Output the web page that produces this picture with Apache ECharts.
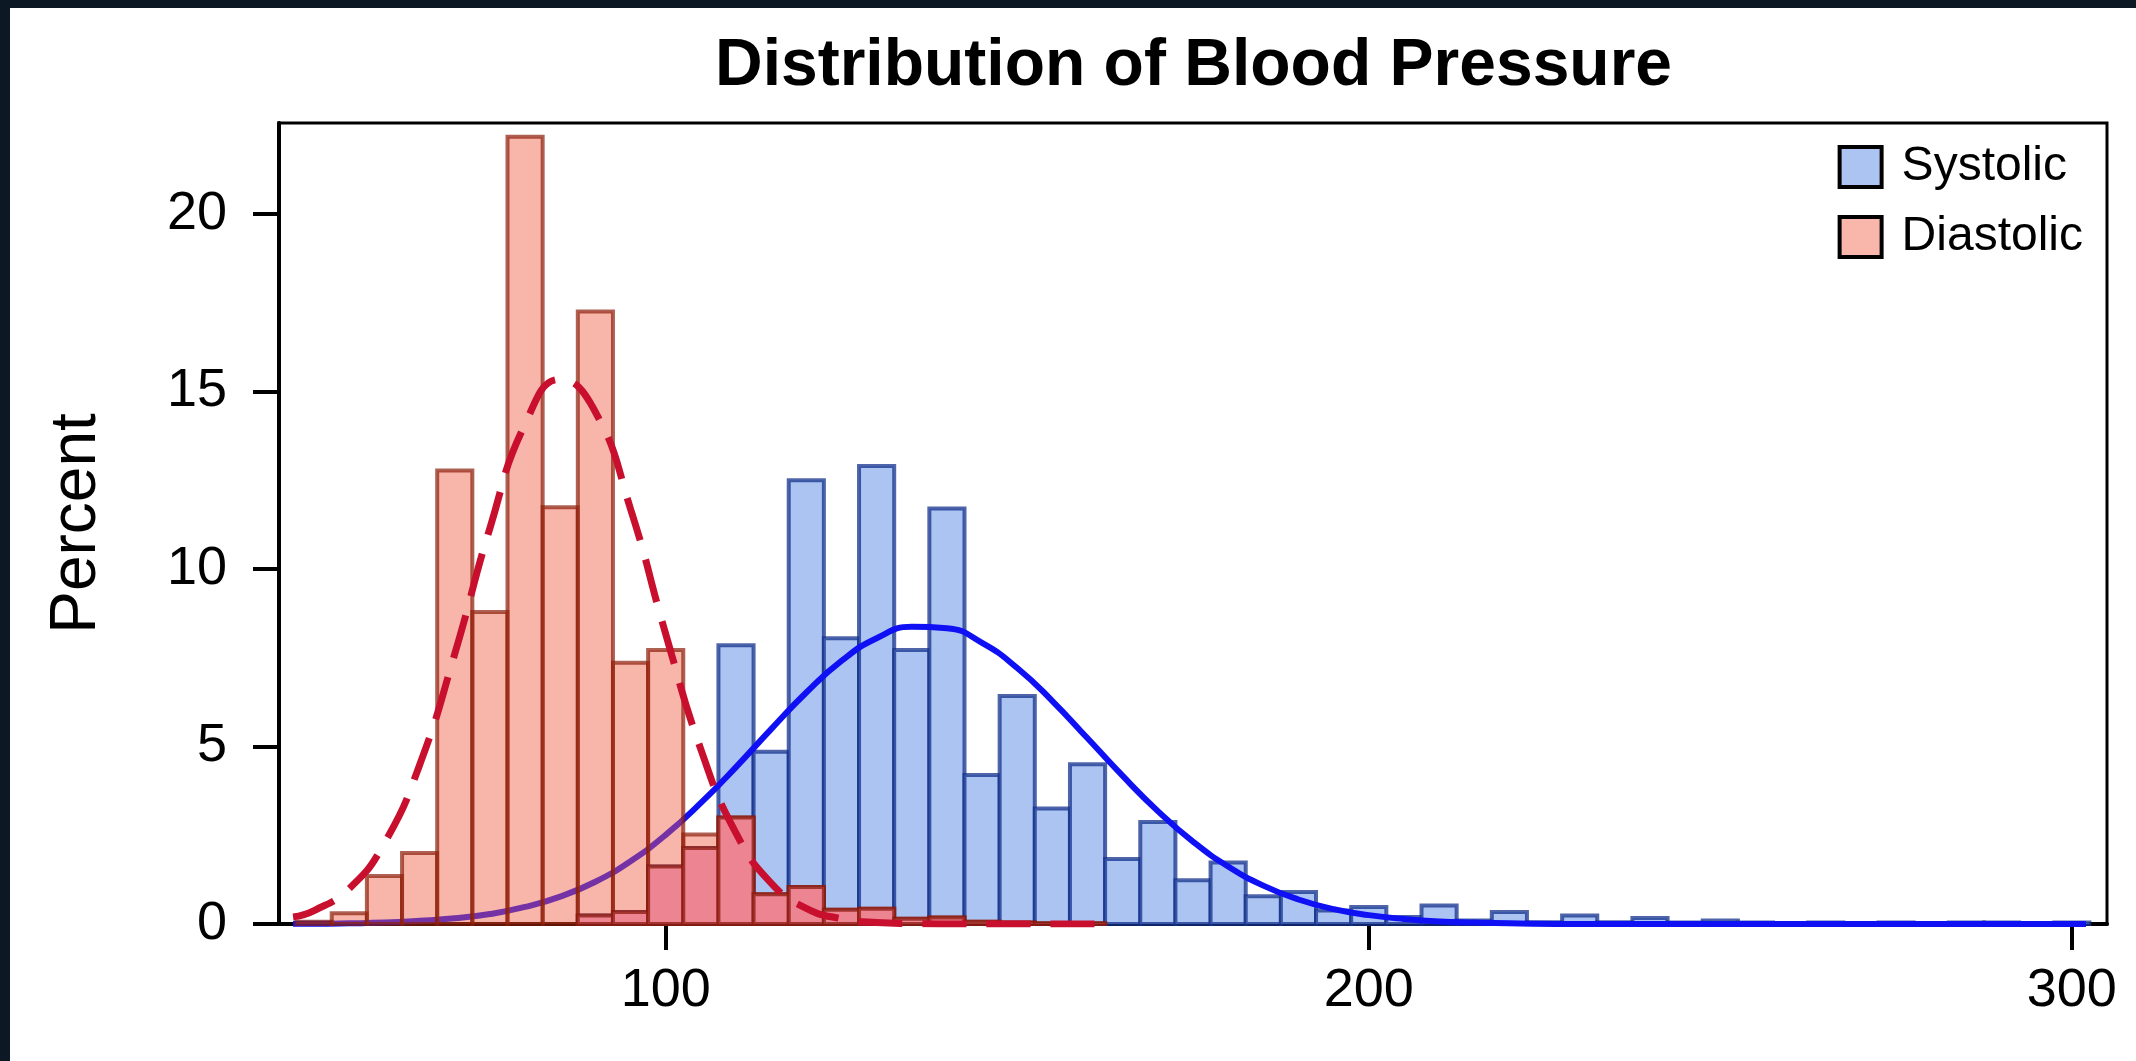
<!DOCTYPE html>
<html>
<head>
<meta charset="utf-8">
<title>Distribution of Blood Pressure</title>
<script src="https://cdn.jsdelivr.net/npm/echarts@6.0.0/dist/echarts.min.js"></script>
<style>
html, body { margin: 0; padding: 0; background: #fff; }
#bp_chart { width: 2136px; height: 1061px; }
</style>
</head>
<body>
<div id="bp_chart"></div>
<script>
// histogram bins (mmHg), 5 wide
var binWidth = 5;
var binMid = [50, 55, 60, 65, 70, 75, 80, 85, 90, 95,
	100, 105, 110, 115, 120, 125, 130, 135, 140, 145,
	150, 155, 160, 165, 170, 175, 180, 185, 190, 195,
	200, 205, 210, 215, 220, 225, 230, 235, 240, 245,
	250, 255, 260, 265, 270, 275, 280, 285, 290, 295, 300];
// percent per bin
var systolic = [0, 0, 0, 0, 0, 0, 0, 0, 0.24, 0.34,
	1.62, 2.14, 7.85, 4.85, 12.5, 8.05, 12.9, 7.72, 11.7, 4.2,
	6.42, 3.25, 4.5, 1.83, 2.87, 1.23, 1.73, 0.78, 0.9, 0.38,
	0.48, 0.2, 0.52, 0.1, 0.34, 0.05, 0.24, 0.05, 0.17, 0.04,
	0.1, 0.04, 0.02, 0.04, 0.02, 0.04, 0.02, 0.04, 0.04, 0.02, 0.04];
var diastolic = [0.06, 0.3, 1.35, 2.0, 12.77, 8.79, 22.17, 11.74, 17.25, 7.36,
	7.72, 2.52, 3.0, 0.84, 1.04, 0.4, 0.43, 0.15, 0.18, 0.06,
	0.04, 0.02, 0.02, 0, 0, 0, 0, 0, 0, 0,
	0, 0, 0, 0, 0, 0, 0, 0, 0, 0,
	0, 0, 0, 0, 0, 0, 0, 0, 0, 0, 0];

// normal density curves
var sysCurveX = [47, 50, 55, 60, 65, 70, 75, 80, 85, 90,
	95, 100, 105, 110, 115, 120, 125, 130, 135, 140,
	145, 150, 155, 160, 165, 170, 175, 180, 185, 190,
	195, 200, 205, 210, 215, 220, 230, 302];
var sysCurveY = [0.01, 0.01, 0.02, 0.04, 0.09, 0.16, 0.28, 0.48, 0.77, 1.19,
	1.77, 2.51, 3.41, 4.42, 5.49, 6.52, 7.41, 8.05, 8.37, 8.33,
	7.92, 7.21, 6.28, 5.23, 4.17, 3.18, 2.32, 1.62, 1.08, 0.69,
	0.42, 0.25, 0.14, 0.07, 0.04, 0.02, 0, 0];
var diaCurveX = [47, 50, 55, 60, 65, 70, 75, 80, 85, 90,
	95, 100, 105, 110, 115, 120, 125, 130, 135, 140, 150, 163];
var diaCurveY = [0.2, 0.38, 1.0, 2.28, 4.48, 7.61, 11.15, 14.08, 15.34, 14.42,
	11.69, 8.17, 4.92, 2.56, 1.15, 0.44, 0.15, 0.04, 0.01, 0, 0, 0];

var xTicks = [100, 200, 300];
var yTicks = [0, 5, 10, 15, 20];

var fontName = '"Liberation Sans", Arial, sans-serif';
var myChart = echarts.init(document.getElementById('bp_chart'));

function pairs(xs, ys) {
	var arr = [];
	for (var i = 0; i < xs.length; i++) {
		arr.push([xs[i], ys[i]]);
	}
	return arr;
}

// where both histograms cover the same bin
var overlap = [];
for (var i = 0; i < binMid.length; i++) {
	overlap.push(Math.min(systolic[i], diastolic[i]));
}

function histItem(fill, stroke) {
	return function(params, api) {
		var h = api.value(1);
		if (!(h > 0)) return null;
		var mid = api.value(0);
		var p0 = api.coord([mid - binWidth / 2, h]);
		var p1 = api.coord([mid + binWidth / 2, 0]);
		return {
			type: 'rect',
			shape: { x: p0[0], y: p0[1], width: p1[0] - p0[0], height: p1[1] - p0[1] },
			style: { fill: fill, stroke: stroke, lineWidth: 4 }
		};
	};
}

var option = {
	backgroundColor: '#fff',
	animation: false,
	textStyle: { fontFamily: fontName },
	title: {
		text: 'Distribution of Blood Pressure',
		left: 710,
		top: 29,
		textStyle: { fontSize: 66, fontWeight: 'bold', color: '#000', fontFamily: fontName }
	},
	legend: {
		orient: 'vertical',
		right: 48,
		top: 138,
		itemWidth: 42,
		itemHeight: 40,
		itemGap: 22,
		selectedMode: false,
		textStyle: { fontSize: 48, color: '#000', lineHeight: 40, padding: [0, 0, 0, 15], fontFamily: fontName },
		data: [
			{ name: 'Systolic', icon: 'rect', itemStyle: { color: '#ACC4F2', borderColor: '#000', borderWidth: 4 } },
			{ name: 'Diastolic', icon: 'rect', itemStyle: { color: '#F8B7AA', borderColor: '#000', borderWidth: 4 } }
		]
	},
	grid: {
		left: 279,
		right: 29,
		top: 123,
		bottom: 137,
		show: true,
		borderColor: '#000',
		borderWidth: 3,
		backgroundColor: 'transparent'
	},
	xAxis: {
		type: 'value',
		min: 45,
		max: 305,
		axisLine: { lineStyle: { color: '#000', width: 4 } },
		axisTick: { customValues: xTicks, length: 26, lineStyle: { color: '#000', width: 4 } },
		axisLabel: { customValues: xTicks, fontSize: 54, color: '#000', margin: 40, fontFamily: fontName },
		splitLine: { show: false }
	},
	yAxis: {
		type: 'value',
		min: 0,
		max: 22.56,
		name: 'Percent',
		nameLocation: 'middle',
		nameRotate: 90,
		nameGap: 170,
		nameTextStyle: { fontSize: 64, color: '#000', fontFamily: fontName },
		axisLine: { show: true, lineStyle: { color: '#000', width: 4 } },
		axisTick: { show: true, customValues: yTicks, length: 26, lineStyle: { color: '#000', width: 4 } },
		axisLabel: { customValues: yTicks, fontSize: 54, color: '#000', margin: 52, fontFamily: fontName },
		splitLine: { show: false }
	},
	graphic: [
		{ type: 'rect', shape: { x: 0, y: 0, width: 2136, height: 8 }, style: { fill: '#0c1824' }, z: 100 },
		{ type: 'rect', shape: { x: 0, y: 0, width: 10, height: 1061 }, style: { fill: '#0c1824' }, z: 100 }
	],
	series: [{
		name: 'Systolic',
		type: 'custom',
		z: 1,
		renderItem: histItem('#ACC4F2', 'rgba(20,50,140,0.75)'),
		encode: { x: 0, y: 1 },
		data: pairs(binMid, systolic)
	}, {
		name: 'Systolic Normal',
		type: 'line',
		z: 2,
		showSymbol: false,
		smooth: 0.5,
		lineStyle: { color: '#1010F4', width: 6 },
		itemStyle: { color: '#1010F4' },
		data: pairs(sysCurveX, sysCurveY)
	}, {
		name: 'Diastolic',
		type: 'custom',
		z: 3,
		renderItem: histItem('rgba(239,93,66,0.45)', 'rgba(140,30,10,0.7)'),
		encode: { x: 0, y: 1 },
		itemStyle: { color: '#F8B7AA' },
		data: pairs(binMid, diastolic)
	}, {
		name: 'Both',
		type: 'custom',
		z: 4,
		renderItem: histItem('#EC8492', 'rgba(140,25,15,0.75)'),
		encode: { x: 0, y: 1 },
		data: pairs(binMid, overlap)
	}, {
		name: 'Diastolic Normal',
		type: 'line',
		z: 5,
		showSymbol: false,
		smooth: 0.5,
		lineStyle: { color: '#C8102E', width: 7, type: [44, 20] },
		itemStyle: { color: '#C8102E' },
		data: pairs(diaCurveX, diaCurveY)
	}]
};

myChart.setOption(option);
</script>
</body>
</html>
